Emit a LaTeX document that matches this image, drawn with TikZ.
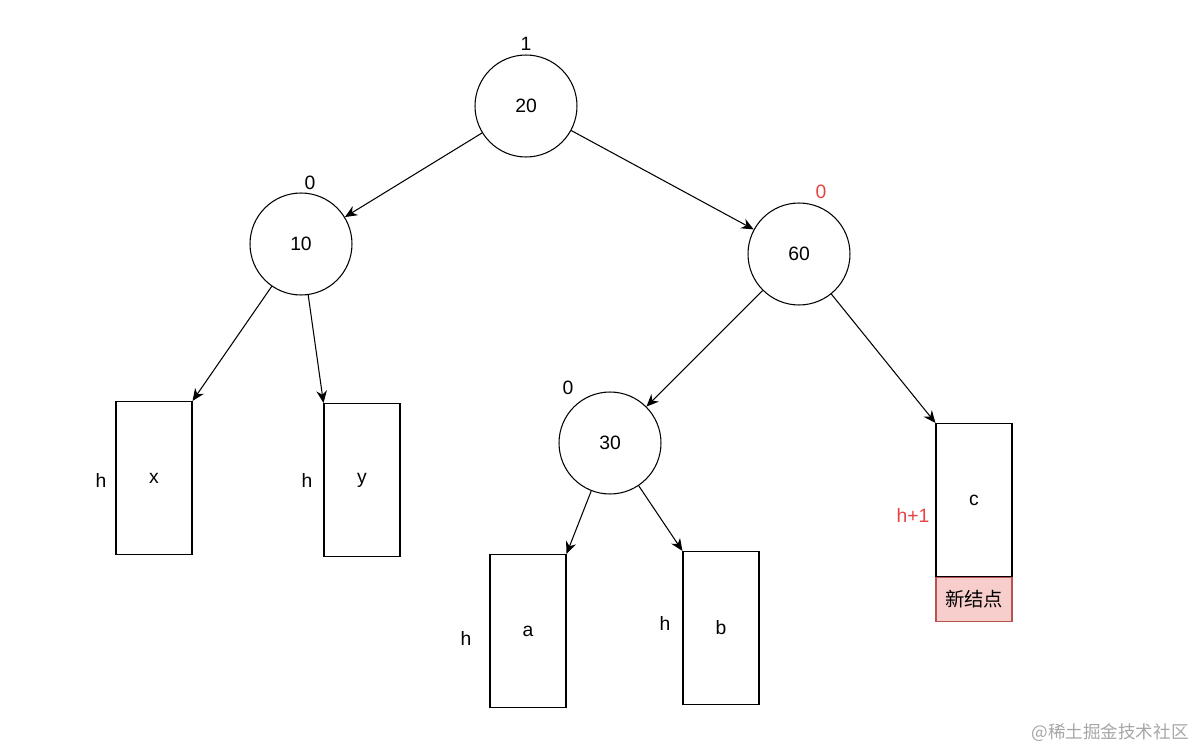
\documentclass[tikz,border=0pt]{standalone}
\usepackage{fontspec}
\setmainfont{Liberation Sans}
\newfontfamily\cjk{Noto Sans CJK SC}
\usetikzlibrary{arrows.meta,positioning}
\definecolor{hred}{RGB}{234,67,67}
\definecolor{newfill}{RGB}{248,206,204}
\definecolor{newdraw}{RGB}{184,84,80}

\begin{document}
\begin{tikzpicture}[
    x=0.02cm, y=-0.02cm,
    every node/.style={font=\fontsize{11}{13}\selectfont},
    knot/.style={draw, circle, minimum size=2.04cm, inner sep=0pt, line width=0.6pt},
    sub/.style={draw, minimum width=1.52cm, minimum height=3.06cm, inner sep=0pt, line width=0.6pt},
    newbox/.style={draw=newdraw, fill=newfill, minimum width=1.52cm, minimum height=0.88cm, inner sep=0pt, line width=0.6pt, font=\cjk\fontsize{11}{13}\selectfont},
    arr/.style={-{Stealth[length=7pt, width=6pt]}, line width=0.6pt},
    lbl/.style={inner sep=1pt}
]
\useasboundingbox (0,0) rectangle (1198,750);

% nodes of the tree
\node[knot] (n20) at (526,106) {20};
\node[knot] (n10) at (301,244) {10};
\node[knot] (n60) at (799,254) {60};
\node[knot] (n30) at (610,443) {30};

% subtrees
\node[sub] (tx) at (154,478) {x};
\node[sub] (ty) at (362,480) {y};
\node[sub] (ta) at (528,631) {a};
\node[sub] (tb) at (721,628) {b};
\node[sub] (tc) at (974,500) {c};
\node[newbox, anchor=north] (new) at (tc.south) {新结点};

% balance factors and heights
\node[lbl] (bf20) at (526,44) {1};
\node[lbl] (bf10) at (310,183) {0};
\node[lbl, text=hred] (bf60) at (821,192) {0};
\node[lbl] (bf30) at (568,388) {0};
\node[lbl] (hx) at (101,480) {h};
\node[lbl] (hy) at (307,480) {h};
\node[lbl] (ha) at (466,638) {h};
\node[lbl] (hb) at (665,623) {h};
\node[lbl, text=hred] (hc) at (913,515) {h+1};

\draw[arr] (n20) -- (n10);
\draw[arr] (n20) -- (n60);
\draw[arr] (n10) -- (tx.north east);
\draw[arr] (n10) -- (ty.north west);
\draw[arr] (n60) -- (n30);
\draw[arr] (n60) -- (tc.north west);
\draw[arr] (n30) -- (ta.north east);
\draw[arr] (n30) -- (tb.north west);

\node[font=\cjk\fontsize{10}{12}\selectfont, text=black!35] (mark) at (1110,733) {@稀土掘金技术社区};
\end{tikzpicture}
\end{document}
